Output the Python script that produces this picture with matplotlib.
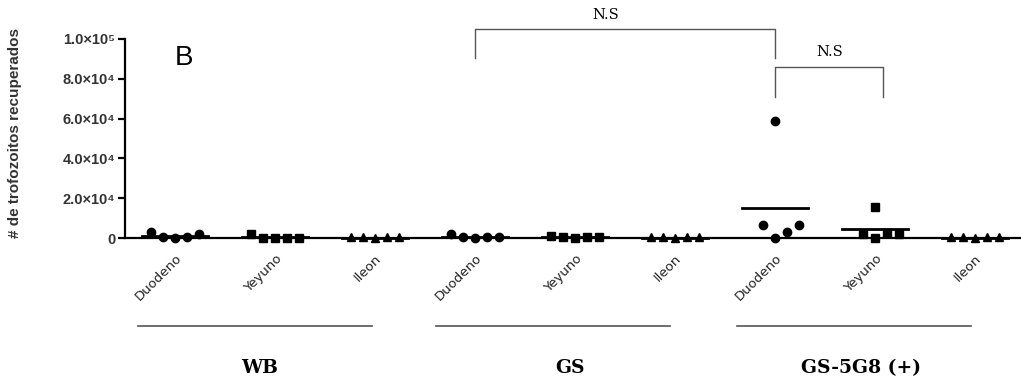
import matplotlib
matplotlib.use('Agg')
import matplotlib.pyplot as plt
import numpy as np

# column categories (3 intestinal sections x 3 strains)
sections = ['Duodeno', 'Yeyuno', 'Ileon']
groups = ['WB', 'GS', 'GS-5G8 (+)']
markers = ['o', 's', '^']

# recovered trophozoites per animal (5 per column)
wb_duodeno = [3000, 300, 0, 300, 2000]
wb_yeyuno = [2200, 200, 0, 200, 200]
wb_ileon = [300, 300, 0, 300, 300]
gs_duodeno = [2000, 300, 0, 300, 300]
gs_yeyuno = [1200, 400, 0, 400, 400]
gs_ileon = [300, 300, 0, 300, 300]
g8_duodeno = [6500, 58800, 0, 3000, 6500]
g8_yeyuno = [2000, 15600, 0, 2500, 2000]
g8_ileon = [300, 300, 0, 300, 300]

columns = [wb_duodeno, wb_yeyuno, wb_ileon,
           gs_duodeno, gs_yeyuno, gs_ileon,
           g8_duodeno, g8_yeyuno, g8_ileon]

yticks = [0, 2e4, 4e4, 6e4, 8e4, 1e5]
ytick_labels = ['0', '2.0×10⁴', '4.0×10⁴', '6.0×10⁴', '8.0×10⁴', '1.0×10⁵']


def spread(vals, gap=0.12, near=10000):
    # points near the baseline sit side by side, outliers stay on the column centre
    off = np.zeros(len(vals))
    low = [i for i, v in enumerate(vals) if v < near]
    n = len(low)
    for k, i in enumerate(low):
        off[i] = (k - (n - 1) // 2) * gap
    return off


fig = plt.figure(figsize=(10.21, 3.83), dpi=100)
ax = fig.add_axes([125 / 1021, 145 / 383, 896 / 1021, 199 / 383])

for i, vals in enumerate(columns):
    x = i + spread(vals)
    ax.plot(x, vals, linestyle='none', marker=markers[i % 3], color='black',
            markersize=6, clip_on=False, zorder=4)
    m = np.mean(vals)
    ax.plot([i - 0.33, i + 0.33], [m, m], color='black', lw=2, clip_on=False, zorder=3)

ax.set_xlim(-0.5, 8.46)
ax.set_ylim(0, 1e5)
for s in ['top', 'right']:
    ax.spines[s].set_visible(False)
ax.spines['left'].set_linewidth(1.6)
ax.spines['bottom'].set_linewidth(1.6)

ax.set_yticks(yticks)
ax.set_yticklabels(ytick_labels, fontsize=10.5, fontweight='bold', color='#333333',
                   family=['Liberation Sans', 'DejaVu Sans'])
ax.tick_params(axis='y', length=5, width=1.6, pad=2)

ax.set_xticks(range(9))
ax.set_xticklabels(sections * 3, rotation=45, ha='right', va='top',
                   rotation_mode='anchor', fontsize=9.5, color='#222222')
ax.tick_params(axis='x', length=0, pad=10)

fig.text(15 / 1021, 1 - 133 / 383, '# de trofozoitos recuperados', rotation=90,
         ha='center', va='center', fontsize=11, fontweight='bold', color='#333333',
         family='Liberation Sans')
fig.text(184 / 1021, 1 - 58 / 383, 'B', ha='center', va='center', fontsize=20,
         family='Liberation Sans')

# significance brackets
br = dict(color='#555555', lw=1, clip_on=False)
ax.plot([3, 3, 6, 6], [0.903e5, 1.049e5, 1.049e5, 0.903e5], **br)
ax.text(4.31, 1.12e5, 'N.S', ha='center', va='center', fontsize=10.5, family='DejaVu Serif')
ax.plot([6, 6, 7.08, 7.08], [0.707e5, 0.858e5, 0.858e5, 0.707e5], **br)
ax.text(6.55, 0.933e5, 'N.S', ha='center', va='center', fontsize=10.5, family='DejaVu Serif')

# strain group underlines and labels
spans = [(-0.37, 1.97), (2.61, 4.95), (5.62, 7.96)]
label_x = [0.85, 3.95, 6.86]
for (a, b), lx, g in zip(spans, label_x, groups):
    ax.plot([a, b], [-0.444e5, -0.444e5], color='#555555', lw=1.2, clip_on=False)
    ax.text(lx, -0.655e5, g, ha='center', va='center', fontsize=13.5,
            fontweight='bold', family='DejaVu Serif')

fig.savefig('out.png', dpi=100)
